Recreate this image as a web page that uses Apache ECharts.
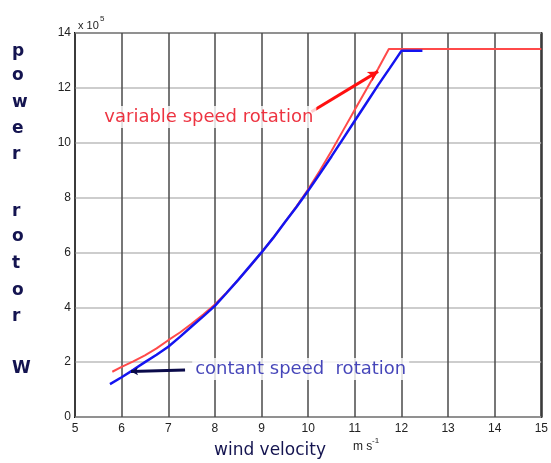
<!DOCTYPE html>
<html>
<head>
<meta charset="utf-8">
<script src="https://cdn.jsdelivr.net/npm/echarts@6/dist/echarts.min.js"></script>
<style>
  html, body { margin: 0; padding: 0; background: #fff; }
  #chart { width: 551px; height: 463px; }
</style>
</head>
<body>
<div id="chart"></div>
<script>
// Wind velocity (m/s) and rotor power (x 10^5 W)
const variableSpeed = [
  [5.8, 1.65], [6.0, 1.83], [6.25, 2.03], [6.5, 2.25], [6.75, 2.5], [7.0, 2.8],
  [7.25, 3.08], [7.5, 3.4], [7.75, 3.74], [8.0, 4.1], [8.25, 4.53], [8.5, 5.0],
  [8.75, 5.48], [9.0, 6.0], [9.25, 6.53], [9.5, 7.1], [9.75, 7.68], [10.0, 8.3],
  [10.25, 8.98], [10.5, 9.7], [10.75, 10.45], [11.0, 11.2], [11.25, 11.95],
  [11.5, 12.7], [11.73, 13.42], [15.0, 13.42]
];
const constantSpeed = [
  [5.75, 1.2], [6.0, 1.45], [6.25, 1.72], [6.5, 2.0], [6.75, 2.27], [7.0, 2.56],
  [7.25, 2.92], [7.5, 3.3], [7.75, 3.67], [8.0, 4.05], [8.25, 4.52], [8.5, 5.0],
  [8.75, 5.5], [9.0, 6.0], [9.25, 6.53], [9.5, 7.1], [9.75, 7.66], [10.0, 8.25],
  [10.25, 8.87], [10.5, 9.5], [10.75, 10.15], [11.0, 10.8], [11.25, 11.45],
  [11.5, 12.1], [11.75, 12.72], [12.0, 13.35], [12.45, 13.35]
];
// Annotation pointers and label anchors in data units
const variableArrow = [[10.07, 11.13], [11.5, 12.6]];
const constantPointer = [[7.36, 1.71], [6.2, 1.66]];
const variableLabelAt = [7.87, 10.94];
const constantLabelAt = [9.84, 1.75];

const xTicks = [5, 6, 7, 8, 9, 10, 11, 12, 13, 14, 15];
const yTicks = [0, 2, 4, 6, 8, 10, 12, 14];

const yLetters = [
  ['p', 53], ['o', 77], ['w', 104], ['e', 130], ['r', 156],
  ['r', 213], ['o', 238], ['t', 265], ['o', 292], ['r', 318], ['W', 370]
];

const chart = echarts.init(document.getElementById('chart'), null, { renderer: 'canvas' });

const tickFont = { fontFamily: 'Liberation Sans', fontSize: 12, color: '#222' };
const labelColor = '#141450';

const graphics = yLetters.map(([ch, y]) => ({
  type: 'text', left: 12, top: y - 10,
  style: { text: ch, font: 'bold 17px "DejaVu Sans"', fill: labelColor }
}));
graphics.push(
  { type: 'text', left: 214, top: 442,
    style: { text: 'wind velocity', font: '17px "DejaVu Sans"', fill: labelColor } },
  { type: 'text', left: 353, top: 441,
    style: { text: 'm s', font: '12px "Liberation Sans"', fill: '#222' } },
  { type: 'text', left: 372, top: 437,
    style: { text: '-1', font: '8px "Liberation Sans"', fill: '#222' } },
  { type: 'text', left: 78, top: 20,
    style: { text: 'x 10', font: '11px "Liberation Sans"', fill: '#222' } },
  { type: 'text', left: 100, top: 15,
    style: { text: '5', font: '8px "Liberation Sans"', fill: '#222' } }
);

chart.setOption({
  animation: false,
  backgroundColor: '#fff',
  grid: {
    left: 75, right: 9, top: 33, bottom: 46,
    show: true, borderColor: '#111', borderWidth: 2, backgroundColor: '#fff'
  },
  xAxis: {
    type: 'value', min: 5, max: 15, interval: 1,
    axisLine: { show: false },
    axisTick: { show: false },
    axisLabel: Object.assign({ margin: 6, formatter: v => xTicks.includes(v) ? String(v) : '' }, tickFont),
    splitLine: { show: true, lineStyle: { color: '#4a4a4a', width: 1.5 } }
  },
  yAxis: {
    type: 'value', min: 0, max: 14, interval: 2,
    axisLine: { show: false },
    axisTick: { show: false },
    axisLabel: Object.assign({ margin: 4, formatter: v => yTicks.includes(v) ? String(v) : '' }, tickFont),
    splitLine: { show: true, lineStyle: { color: '#bdbdbd', width: 1.5 } }
  },
  graphic: graphics,
  series: [
    {
      name: 'variable speed rotation', type: 'line', data: variableSpeed,
      showSymbol: false, z: 3,
      lineStyle: { color: '#ff4a4a', width: 2 }
    },
    {
      name: 'contant speed rotation', type: 'line', data: constantSpeed,
      showSymbol: false, z: 4,
      lineStyle: { color: '#1414f0', width: 2.5 }
    },
    {
      type: 'line', data: variableArrow, showSymbol: false, silent: true, z: 5,
      lineStyle: { width: 0 },
      markLine: {
        silent: true, animation: false,
        symbol: ['none', 'arrow'], symbolSize: [8, 10],
        label: { show: false },
        lineStyle: { color: '#ff1010', width: 3, type: 'solid' },
        data: [[{ coord: variableArrow[0] }, { coord: variableArrow[1] }]]
      }
    },
    {
      type: 'line', data: constantPointer, showSymbol: false, silent: true, z: 5,
      lineStyle: { width: 0 },
      markLine: {
        silent: true, animation: false,
        symbol: ['none', 'arrow'], symbolSize: [6, 7],
        label: { show: false },
        lineStyle: { color: '#0a0a4a', width: 3, type: 'solid' },
        data: [[{ coord: constantPointer[0] }, { coord: constantPointer[1] }]]
      }
    },
    {
      type: 'scatter', silent: true, z: 6, symbolSize: 0,
      data: [variableLabelAt],
      label: {
        show: true, position: 'inside', formatter: 'variable speed rotation',
        fontFamily: 'DejaVu Sans', fontSize: 18, fontWeight: 500, color: '#e80012',
        backgroundColor: '#fff', padding: [2, 3]
      }
    },
    {
      type: 'scatter', silent: true, z: 6, symbolSize: 0,
      data: [constantLabelAt],
      label: {
        show: true, position: 'inside', formatter: 'contant speed  rotation',
        fontFamily: 'DejaVu Sans', fontSize: 18, fontWeight: 500, color: '#1616a8',
        backgroundColor: '#fff', padding: [2, 3]
      }
    }
  ]
});
</script>
</body>
</html>
